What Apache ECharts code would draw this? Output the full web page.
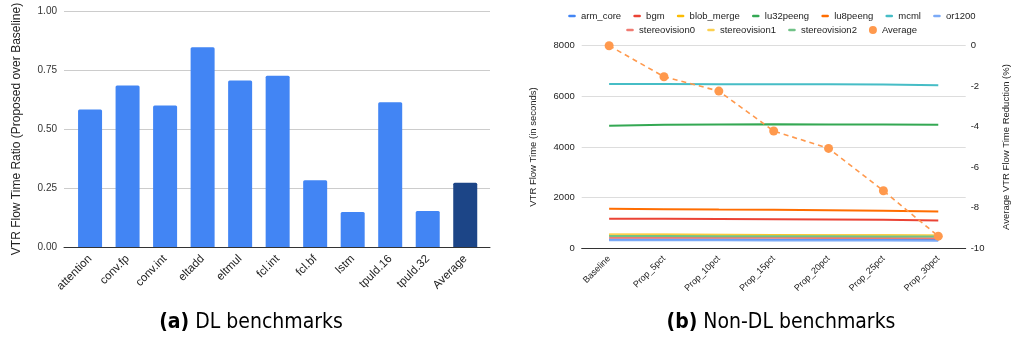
<!DOCTYPE html>
<html><head><meta charset="utf-8">
<script src="https://cdn.jsdelivr.net/npm/echarts@6/dist/echarts.min.js"></script>
<style>html,body{margin:0;padding:0;background:#fff}#c{width:1017px;height:341px}</style>
</head><body><div id="c"></div>
<script>
// ---- Left chart (DL benchmarks) ----
const dlCategories = ['attention','conv.fp','conv.int','eltadd','eltmul','fcl.int','fcl.bf','lstm','tpuld.16','tpuld.32','Average'];
const dlRatios = [0.583, 0.684, 0.600, 0.846, 0.706, 0.726, 0.283, 0.148, 0.613, 0.153, 0.272];

// ---- Right chart (Non-DL benchmarks) ----
const nonDlCategories = ['Baseline','Prop_5pct','Prop_10pct','Prop_15pct','Prop_20pct','Prop_25pct','Prop_30pct'];
const armCore      = [350, 348, 345, 342, 340, 338, 330];
const bgm          = [1170, 1165, 1160, 1150, 1140, 1130, 1100];
const blobMerge    = [545, 540, 535, 530, 520, 515, 505];
const lu32peeng    = [4840, 4880, 4890, 4900, 4890, 4890, 4880];
const lu8peeng     = [1560, 1545, 1530, 1520, 1500, 1480, 1450];
const mcml         = [6490, 6485, 6480, 6480, 6475, 6470, 6440];
const or1200       = [320, 318, 315, 312, 310, 308, 300];
const stereovision0 = [420, 418, 415, 412, 410, 405, 400];
const stereovision1 = [525, 520, 515, 510, 505, 500, 490];
const stereovision2 = [485, 482, 480, 478, 475, 470, 465];
const averageReduction = [0, -1.53, -2.24, -4.21, -5.07, -7.16, -9.40];

const nonDlSeries = [
  ['arm_core', armCore, '#4285F4'],
  ['bgm', bgm, '#EA4335'],
  ['blob_merge', blobMerge, '#FBBC04'],
  ['lu32peeng', lu32peeng, '#34A853'],
  ['lu8peeng', lu8peeng, '#FF6D01'],
  ['mcml', mcml, '#46BDC6'],
  ['or1200', or1200, '#7BAAF7'],
  ['stereovision0', stereovision0, '#F07B72'],
  ['stereovision1', stereovision1, '#FCD04F'],
  ['stereovision2', stereovision2, '#71C287']
];
const avgColor = '#FF994D';

const FONT = 'Liberation Sans, Arial, sans-serif';
const CAP_FONT = '"DejaVu Sans Condensed", "Liberation Sans Narrow", sans-serif';
const lineIcon = 'path://M0,0 M8,8 M1.5,2.7 L6.5,2.7 A1.3,1.3 0 0 1 6.5,5.3 L1.5,5.3 A1.3,1.3 0 0 1 1.5,2.7 Z';

const chart = echarts.init(document.getElementById('c'), null, {renderer: 'canvas'});

const series = [];
series.push({
  type: 'bar', xAxisIndex: 1, yAxisIndex: 1, barWidth: 24,
  data: dlRatios.map((v, i) => ({value: v, itemStyle: {color: i === dlRatios.length - 1 ? '#1C4587' : '#4285F4'}})),
  itemStyle: {borderRadius: [1.5, 1.5, 0, 0]},
  silent: true
});
nonDlSeries.forEach(([name, data, color]) => {
  series.push({
    type: 'line', name, data, xAxisIndex: 2, yAxisIndex: 2,
    showSymbol: false, symbol: 'none', color,
    lineStyle: {width: 2, color}, silent: true, z: 2
  });
});
series.push({
  type: 'line', name: 'Average', data: averageReduction, xAxisIndex: 2, yAxisIndex: 3,
  symbol: 'circle', symbolSize: 9, color: avgColor,
  itemStyle: {color: avgColor},
  lineStyle: {width: 1.6, type: [5, 4], color: avgColor}, z: 5, silent: true
});

const row1 = nonDlSeries.slice(0, 7).map(s => ({name: s[0], icon: lineIcon}));
const row2 = nonDlSeries.slice(7).map(s => ({name: s[0], icon: lineIcon})).concat([{name: 'Average', icon: 'circle'}]);
const legendBase = {
  orient: 'horizontal', itemWidth: 8, itemHeight: 8, itemGap: 12,
  textStyle: {fontFamily: FONT, fontSize: 9.5, color: '#222'}, selectedMode: false
};

chart.setOption({
  animation: false,
  backgroundColor: '#fff',
  grid: [
    {left: 64, top: 11, width: 426, height: 236},
    {left: 71.3, top: 11, width: 412.7, height: 236},
    {left: 581.7, top: 45.7, width: 384, height: 202.6}
  ],
  legend: [
    Object.assign({}, legendBase, {left: 563, top: 6, data: row1}),
    Object.assign({}, legendBase, {left: 621, top: 20, data: row2})
  ],
  xAxis: [
    {gridIndex: 0, type: 'value', min: 0, max: 1, show: true,
     axisLine: {show: true, lineStyle: {color: '#333', width: 1}}, axisTick: {show: false},
     axisLabel: {show: false}, splitLine: {show: false}},
    {gridIndex: 1, type: 'category', data: dlCategories,
     axisLine: {show: false}, axisTick: {show: false},
     axisLabel: {rotate: 45, fontSize: 11.5, fontFamily: FONT, color: '#222', margin: 10, interval: 0}},
    {gridIndex: 2, type: 'category', data: nonDlCategories, boundaryGap: true,
     axisLine: {show: true, lineStyle: {color: '#333', width: 1}}, axisTick: {show: false},
     axisLabel: {rotate: 45, fontSize: 9, fontFamily: FONT, color: '#222', margin: 9, interval: 0}}
  ],
  yAxis: [
    {gridIndex: 0, type: 'value', min: 0, max: 1, interval: 0.25,
     axisLine: {show: false}, axisTick: {show: false},
     axisLabel: {formatter: v => v.toFixed(2), fontSize: 10, fontFamily: FONT, color: '#333', margin: 7},
     splitLine: {lineStyle: {color: '#ccc', width: 1}},
     name: 'VTR Flow Time Ratio (Proposed over Baseline)', nameLocation: 'middle', nameRotate: 90, nameGap: 41,
     nameTextStyle: {fontSize: 12, fontFamily: FONT, color: '#222'}},
    {gridIndex: 1, type: 'value', min: 0, max: 1, show: false, splitLine: {show: false}},
    {gridIndex: 2, type: 'value', min: 0, max: 8000, interval: 2000, position: 'left',
     axisLine: {show: false}, axisTick: {show: false},
     axisLabel: {formatter: v => String(v), fontSize: 9.5, fontFamily: FONT, color: '#222', margin: 7},
     splitLine: {lineStyle: {color: '#ddd', width: 1}},
     name: 'VTR Flow Time (in seconds)', nameLocation: 'middle', nameRotate: 90, nameGap: 43,
     nameTextStyle: {fontSize: 9.5, fontFamily: FONT, color: '#222'}},
    {gridIndex: 2, type: 'value', min: -10, max: 0, interval: 2, position: 'right',
     axisLine: {show: false}, axisTick: {show: false},
     axisLabel: {fontSize: 9.5, fontFamily: FONT, color: '#222', margin: 5},
     splitLine: {show: false},
     name: 'Average VTR Flow Time Reduction (%)', nameLocation: 'middle', nameRotate: 90, nameGap: 36,
     nameTextStyle: {fontSize: 9.5, fontFamily: FONT, color: '#222', verticalAlign: 'top'}}
  ],
  graphic: [
    {type: 'text', x: 251, y: 323, style: {
      text: '{b|(a)} DL benchmarks', font: '21px ' + CAP_FONT, fill: '#000', align: 'center', verticalAlign: 'middle',
      rich: {b: {fontWeight: 'bold', fontSize: 21, fontFamily: CAP_FONT}}}},
    {type: 'text', x: 781, y: 323, style: {
      text: '{b|(b)} Non-DL benchmarks', font: '21px ' + CAP_FONT, fill: '#000', align: 'center', verticalAlign: 'middle',
      rich: {b: {fontWeight: 'bold', fontSize: 21, fontFamily: CAP_FONT}}}}
  ],
  series
});
</script></body></html>
